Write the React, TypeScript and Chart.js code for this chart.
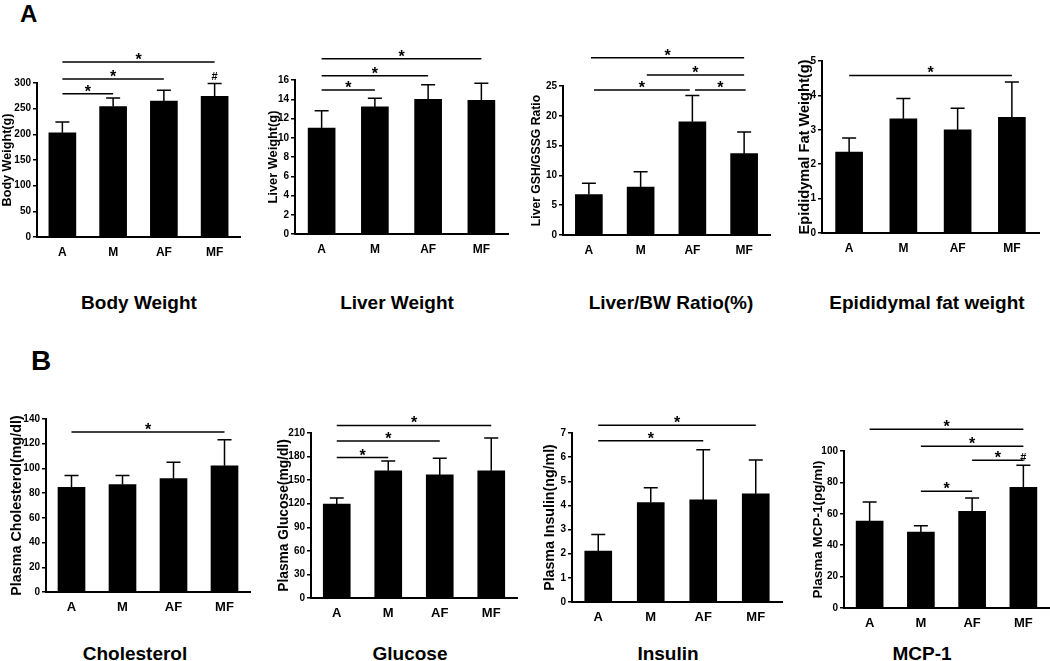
import React, { useEffect, useRef } from "react";
import { Chart, registerables } from "chart.js";

Chart.register(...registerables);

const FONT = "'Liberation Sans', Arial, Helvetica, sans-serif";

// ---- data ----
const groups = ["A", "M", "AF", "MF"];

const bodyWeightMean = [203, 254, 265, 274];
const bodyWeightUpper = [224, 271, 286, 299];
const bodyWeightSig = [[0, 1, 279], [0, 2, 308], [0, 3, 341]];
const bodyWeightHash = [3];

const liverWeightMean = [11.0, 13.2, 14.0, 13.9];
const liverWeightUpper = [12.8, 14.1, 15.5, 15.65];
const liverWeightSig = [[0, 1, 14.96], [0, 2, 16.45], [0, 3, 18.2]];

const gshRatioMean = [6.8, 8.05, 19.0, 13.65];
const gshRatioUpper = [8.67, 10.63, 23.4, 17.3];
const gshRatioSig = [[0.1, 1.95, 24.33], [2.05, 3.03, 24.33], [1.12, 3.0, 26.85], [0.04, 3.0, 29.75]];

const fatWeightMean = [2.35, 3.32, 3.0, 3.36];
const fatWeightUpper = [2.76, 3.91, 3.63, 4.39];
const fatWeightSig = [[0, 3, 4.58]];

const cholesterolMean = [84.8, 86.9, 91.8, 102.1];
const cholesterolUpper = [94.2, 94.2, 105.1, 123.2];
const cholesterolSig = [[0, 3, 129.4]];

const glucoseMean = [119.6, 161.8, 156.7, 161.8];
const glucoseUpper = [127.2, 174.5, 177.9, 203.6];
const glucoseSig = [[0, 1, 178.7], [0, 2, 199.8], [0, 3, 219.7]];

const insulinMean = [2.11, 4.12, 4.23, 4.48];
const insulinUpper = [2.8, 4.73, 6.31, 5.88];
const insulinSig = [[0, 2, 6.68], [0, 3, 7.32]];

const mcpMean = [55.4, 48.4, 61.6, 76.9];
const mcpUpper = [67.5, 52.4, 70.1, 90.9];
const mcpSig = [[1, 2, 74.3], [2, 3, 94.1], [1, 3, 103], [0, 3, 113.8]];
const mcpHash = [3];

const yMaxes = [300, 16, 25, 5, 140, 210, 7, 100];
const ySteps = [50, 2, 5, 1, 20, 30, 1, 20];
const yTitles = [
  "Body Weight(g)",
  "Liver Weight(g)",
  "Liver GSH/GSSG Ratio",
  "Epididymal Fat Weight(g)",
  "Plasma Cholesterol(mg/dl)",
  "Plasma Glucose(mg/dl)",
  "Plasma Insulin(ng/ml)",
  "Plasma MCP-1(pg/ml)",
];
const panelTitles = [
  "Body Weight",
  "Liver Weight",
  "Liver/BW Ratio(%)",
  "Epididymal fat weight",
  "Cholesterol",
  "Glucose",
  "Insulin",
  "MCP-1",
];

const panelData = [
  { mean: bodyWeightMean, upper: bodyWeightUpper, sig: bodyWeightSig, hash: bodyWeightHash },
  { mean: liverWeightMean, upper: liverWeightUpper, sig: liverWeightSig, hash: [] as number[] },
  { mean: gshRatioMean, upper: gshRatioUpper, sig: gshRatioSig, hash: [] as number[] },
  { mean: fatWeightMean, upper: fatWeightUpper, sig: fatWeightSig, hash: [] as number[] },
  { mean: cholesterolMean, upper: cholesterolUpper, sig: cholesterolSig, hash: [] as number[] },
  { mean: glucoseMean, upper: glucoseUpper, sig: glucoseSig, hash: [] as number[] },
  { mean: insulinMean, upper: insulinUpper, sig: insulinSig, hash: [] as number[] },
  { mean: mcpMean, upper: mcpUpper, sig: mcpSig, hash: mcpHash },
];

// ---- layout (pixel geometry of each panel) ----
type Geo = {
  left: number; top: number; x0: number; x1: number; yT: number; yB: number;
  titleFont: number; catFont: number; catPad: number; padRight: number;
  titleX: number; titleY: number;
};
const geos: Geo[] = [
  { left: 0, top: 0, x0: 37, x1: 240, yT: 83, yB: 237, titleFont: 12.6, catFont: 12, catPad: 8, padRight: 2, titleX: 139, titleY: 293 },
  { left: 266, top: 0, x0: 295, x1: 508, yT: 80, yB: 234, titleFont: 12.8, catFont: 12, catPad: 8, padRight: 2, titleX: 397, titleY: 293 },
  { left: 529, top: 0, x0: 563, x1: 770, yT: 86, yB: 235, titleFont: 12.2, catFont: 12, catPad: 8, padRight: 2, titleX: 671, titleY: 293 },
  { left: 796, top: 0, x0: 822, x1: 1039, yT: 61, yB: 233, titleFont: 14.6, catFont: 12, catPad: 8, padRight: 2, titleX: 927, titleY: 293 },
  { left: 8, top: 390, x0: 46, x1: 250, yT: 419, yB: 592, titleFont: 14.3, catFont: 13, catPad: 8, padRight: 2, titleX: 135, titleY: 644 },
  { left: 276, top: 390, x0: 311, x1: 517, yT: 433, yB: 598, titleFont: 13.8, catFont: 13, catPad: 8, padRight: 2, titleX: 410, titleY: 644 },
  { left: 542, top: 390, x0: 572, x1: 782, yT: 433, yB: 602, titleFont: 14.2, catFont: 13, catPad: 8, padRight: 2, titleX: 668, titleY: 644 },
  { left: 810, top: 390, x0: 844, x1: 1049, yT: 451, yB: 608, titleFont: 13.5, catFont: 13, catPad: 8, padRight: 1, titleX: 922, titleY: 644 },
];

function Panel({ idx }: { idx: number }) {
  const ref = useRef<HTMLCanvasElement>(null);
  const g = geos[idx];
  const d = panelData[idx];
  const width = g.x1 + g.padRight - g.left;
  const height = g.yB + 30 - g.top;

  useEffect(() => {
    if (!ref.current) return;
    const annot = {
      id: "annot" + idx,
      afterDatasetsDraw(chart: any) {
        const { ctx } = chart;
        const x = chart.scales.x;
        const y = chart.scales.y;
        const meta = chart.getDatasetMeta(0);
        ctx.save();
        ctx.strokeStyle = "#000";
        ctx.fillStyle = "#000";
        ctx.lineWidth = 1.5;
        // error bars
        d.upper.forEach((u: number, i: number) => {
          const bar = meta.data[i];
          const px = bar.x;
          const yt = y.getPixelForValue(u);
          ctx.beginPath();
          ctx.moveTo(px, bar.y);
          ctx.lineTo(px, yt);
          ctx.moveTo(px - 7, yt);
          ctx.lineTo(px + 7, yt);
          ctx.stroke();
        });
        // significance lines
        ctx.font = `bold 16px ${FONT}`;
        ctx.textAlign = "center";
        ctx.textBaseline = "alphabetic";
        d.sig.forEach((s: number[]) => {
          const xa = x.getPixelForValue(s[0]);
          const xb = x.getPixelForValue(s[1]);
          const ly = y.getPixelForValue(s[2]);
          ctx.beginPath();
          ctx.moveTo(xa, ly);
          ctx.lineTo(xb, ly);
          ctx.stroke();
          ctx.fillText("*", (xa + xb) / 2, ly + 3);
        });
        // hash marks
        ctx.font = `bold 11px ${FONT}`;
        d.hash.forEach((i: number) => {
          const bar = meta.data[i];
          ctx.fillText("#", bar.x, y.getPixelForValue(d.upper[i]) - 4);
        });
        ctx.restore();
      },
    };

    const chart = new Chart(ref.current, {
      type: "bar",
      data: {
        labels: groups,
        datasets: [
          {
            data: d.mean,
            backgroundColor: "#000",
            borderWidth: 0,
            barThickness: 27,
          },
        ],
      },
      options: {
        responsive: false,
        maintainAspectRatio: false,
        animation: false,
        layout: {
          padding: { top: g.yT - g.top, right: g.padRight, left: 0, bottom: 0 },
          autoPadding: false,
        } as any,
        plugins: {
          legend: { display: false },
          tooltip: { enabled: false },
          title: { display: false },
        },
        scales: {
          x: {
            type: "category",
            grid: { display: false, drawTicks: false },
            border: { display: true, color: "#000", width: 2 },
            ticks: {
              color: "#000",
              padding: g.catPad,
              font: { family: FONT, size: g.catFont, weight: "bold" },
            },
            afterFit: (s: any) => {
              s.height = 30;
            },
          },
          y: {
            min: 0,
            max: yMaxes[idx],
            ticks: {
              stepSize: ySteps[idx],
              color: "#000",
              padding: 2,
              font: { family: FONT, size: 10, weight: "bold" },
            },
            grid: {
              drawOnChartArea: false,
              drawTicks: true,
              tickLength: 4,
              color: "#000",
              lineWidth: 1.5,
            },
            border: { display: true, color: "#000", width: 2 },
            title: {
              display: true,
              text: yTitles[idx],
              color: "#000",
              padding: 0,
              font: { family: FONT, size: g.titleFont, weight: "bold" },
            },
            afterFit: (s: any) => {
              s.width = g.x0 - g.left;
            },
          },
        },
      } as any,
      plugins: [annot],
    });
    return () => chart.destroy();
  }, []);

  return (
    <>
      <canvas
        ref={ref}
        width={width}
        height={height}
        style={{ position: "absolute", left: g.left, top: g.top, width, height }}
      />
      <div
        style={{
          position: "absolute",
          left: g.titleX,
          top: g.titleY,
          transform: "translateX(-50%)",
          whiteSpace: "nowrap",
          fontFamily: FONT,
          fontWeight: "bold",
          fontSize: 19,
          lineHeight: "19px",
          color: "#000",
        }}
      >
        {panelTitles[idx]}
      </div>
    </>
  );
}

export default function App() {
  return (
    <div
      style={{
        position: "absolute",
        left: 0,
        top: 0,
        width: 1050,
        height: 661,
        background: "#fff",
        overflow: "hidden",
      }}
    >
      <div
        style={{
          position: "absolute", left: 20, top: 2, fontFamily: FONT, fontWeight: "bold",
          fontSize: 24, lineHeight: "24px", color: "#000",
        }}
      >
        A
      </div>
      <div
        style={{
          position: "absolute", left: 31, top: 347, fontFamily: FONT, fontWeight: "bold",
          fontSize: 28, lineHeight: "28px", color: "#000",
        }}
      >
        B
      </div>
      {geos.map((_, i) => (
        <Panel key={i} idx={i} />
      ))}
    </div>
  );
}
